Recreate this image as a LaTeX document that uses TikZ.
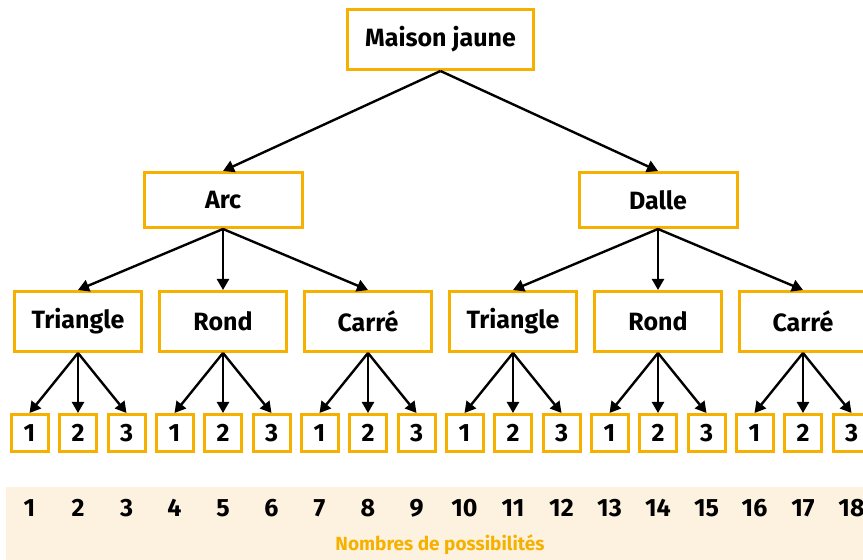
\documentclass[tikz,border=0pt]{standalone}
\usepackage{fontspec}
\setmainfont{Fira Sans}
\usepackage{tikz}
\usetikzlibrary{arrows.meta}
\definecolor{jaune}{HTML}{F6B100}
\definecolor{creme}{HTML}{FDF2E0}

\begin{document}
\begin{tikzpicture}[x=0.5pt, y=-0.5pt,
        boite/.style={draw=jaune, line width=1.5pt, fill=white, inner sep=0pt, font=\fontsize{12.5}{14}\selectfont\bfseries},
        feuille/.style={boite, minimum width=18.5pt, minimum height=18.5pt},
        fleche/.style={-{Triangle[length=5.5pt, width=6pt]}, line width=1.2pt}]
            \useasboundingbox (0, 0) rectangle (863, 560);
            \fill[creme] (6, 487) rectangle (863, 560);

            \node[boite, minimum width=93pt, minimum height=30pt] at (440.5, 39.5) (mj) {Maison jaune};
            \node[boite, minimum width=79pt, minimum height=27.5pt] at (223, 200) (arc) {Arc};
            \node[boite, minimum width=79pt, minimum height=27.5pt] at (658, 200) (dalle) {Dalle};

            \node[boite, minimum width=63.5pt, minimum height=30pt] at (78, 321.5)  (tri1) {Triangle};
            \node[boite, minimum width=63.5pt, minimum height=30pt] at (223, 321.5) (rond1) {Rond};
            \node[boite, minimum width=63.5pt, minimum height=30pt] at (368, 321.5) (car1) {Carré};
            \node[boite, minimum width=63.5pt, minimum height=30pt] at (513, 321.5) (tri2) {Triangle};
            \node[boite, minimum width=63.5pt, minimum height=30pt] at (658, 321.5) (rond2) {Rond};
            \node[boite, minimum width=63.5pt, minimum height=30pt] at (803, 321.5) (car2) {Carré};

            \draw [fleche] (mj.south) -- (arc.north);
            \draw [fleche] (mj.south) -- (dalle.north);
            \draw [fleche] (arc.south) -- (tri1.north);
            \draw [fleche] (arc.south) -- (rond1.north);
            \draw [fleche] (arc.south) -- (car1.north);
            \draw [fleche] (dalle.south) -- (tri2.north);
            \draw [fleche] (dalle.south) -- (rond2.north);
            \draw [fleche] (dalle.south) -- (car2.north);

            % feuilles 1, 2, 3 sous chaque forme
            \foreach \p [count=\i from 0] in {tri1, rond1, car1, tri2, rond2, car2} {
                \foreach \k in {1, 2, 3} {
                    \node[feuille] at (78 + 145*\i + 48.5*\k - 97, 433) (\p-\k) {\k};
                    \draw [fleche] (\p.south) -- (\p-\k.north);
                    \pgfmathtruncatemacro{\n}{3*\i + \k}
                    \node[font=\fontsize{12.5}{14}\selectfont\bfseries] at (78 + 145*\i + 48.5*\k - 97, 508) (nb-\n) {\n};
                }
            }

            \node[text=jaune, font=\fontsize{9.5}{11}\selectfont\bfseries] at (440, 545) (titre) {Nombres de possibilités};
        \end{tikzpicture}
\end{document}
